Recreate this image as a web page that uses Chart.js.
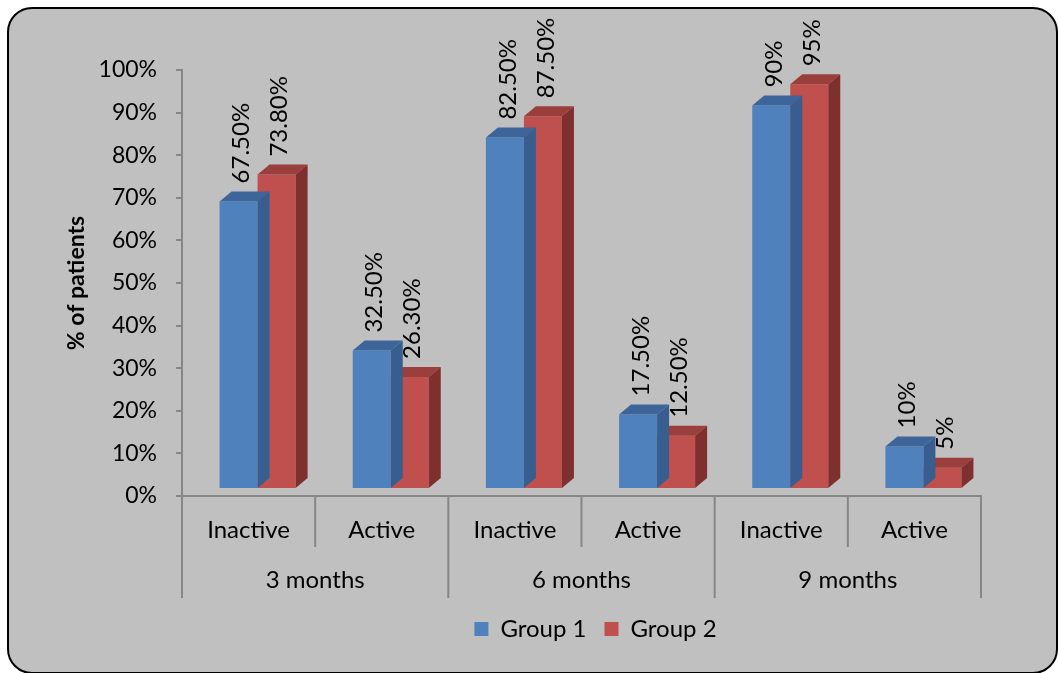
<!DOCTYPE html>
<html><head><meta charset="utf-8">
<script src="https://cdn.jsdelivr.net/npm/chart.js@4.4.1/dist/chart.umd.min.js"></script>
<style>html,body{margin:0;padding:0;background:#fff}#wrap{width:1058px;height:673px}</style>
</head><body><div id="wrap"><canvas id="c" width="1058" height="673"></canvas></div>
<script>
// ---- data ----
const subCategories = ['Inactive', 'Active', 'Inactive', 'Active', 'Inactive', 'Active'];
const groupLabels = ['3 months', '6 months', '9 months'];
const seriesNames = ['Group 1', 'Group 2'];
const group1 = [67.5, 32.5, 82.5, 17.5, 90, 10];
const group2 = [73.8, 26.3, 87.5, 12.5, 95, 5];
const yTicks = [0, 10, 20, 30, 40, 50, 60, 70, 80, 90, 100];

// ---- style ----
const FONT = 'Lato';
const SHIFT_X = 9, SHIFT_Y = -7;      // front face offset of 3D bars
const DEPTH_X = 12, DEPTH_Y = -10;    // 3D depth
const AXIS_COLOR = '#868686';
const LEGEND_SHIFT = 202;

function fmt(v) { return Number.isInteger(v) ? v + '%' : v.toFixed(2) + '%'; }

const background = {
  id: 'background',
  beforeDraw(chart) {
    const ctx = chart.ctx;
    ctx.save();
    ctx.fillStyle = '#ffffff';
    ctx.fillRect(0, 0, chart.width, chart.height);
    const x = 8, y = 8, w = 1049, h = 665, r = 24;
    ctx.beginPath();
    ctx.moveTo(x + r, y);
    ctx.lineTo(x + w - r, y);
    ctx.arcTo(x + w, y, x + w, y + r, r);
    ctx.lineTo(x + w, y + h - r);
    ctx.arcTo(x + w, y + h, x + w - r, y + h, r);
    ctx.lineTo(x + r, y + h);
    ctx.arcTo(x, y + h, x, y + h - r, r);
    ctx.lineTo(x, y + r);
    ctx.arcTo(x, y, x + r, y, r);
    ctx.closePath();
    ctx.fillStyle = '#c0c0c0';
    ctx.fill();
    ctx.lineWidth = 2;
    ctx.strokeStyle = '#000';
    ctx.stroke();
    ctx.restore();
  }
};

const legendShift = {
  id: 'legendShift',
  afterLayout(chart) {
    if (chart.legend) { chart.legend.left += LEGEND_SHIFT; }
  }
};

const bars3d = {
  id: 'bars3d',
  beforeDatasetsDraw(chart) {
    chart.ctx.save();
    chart.ctx.translate(SHIFT_X, SHIFT_Y);
  },
  afterDatasetDraw(chart, args) {
    const ctx = chart.ctx;
    const ds = chart.data.datasets[args.index];
    args.meta.data.forEach(el => {
      const { x, y, base, width } = el.getProps(['x', 'y', 'base', 'width'], true);
      const l = x - width / 2, r = x + width / 2;
      ctx.beginPath();
      ctx.moveTo(l, y); ctx.lineTo(l + DEPTH_X, y + DEPTH_Y);
      ctx.lineTo(r + DEPTH_X, y + DEPTH_Y); ctx.lineTo(r, y); ctx.closePath();
      ctx.fillStyle = ds.topColor; ctx.fill();
      ctx.beginPath();
      ctx.moveTo(r, y); ctx.lineTo(r + DEPTH_X, y + DEPTH_Y);
      ctx.lineTo(r + DEPTH_X, base + DEPTH_Y); ctx.lineTo(r, base); ctx.closePath();
      ctx.fillStyle = ds.sideColor; ctx.fill();
    });
  },
  afterDatasetsDraw(chart) {
    const ctx = chart.ctx;
    ctx.fillStyle = '#000';
    ctx.font = '24px ' + FONT;
    ctx.textAlign = 'left';
    ctx.textBaseline = 'middle';
    chart.data.datasets.forEach((ds, i) => {
      chart.getDatasetMeta(i).data.forEach((el, j) => {
        ctx.save();
        ctx.translate(el.x + 3, el.y + DEPTH_Y - 8);
        ctx.rotate(-Math.PI / 2);
        ctx.fillText(fmt(ds.data[j]), 0, 0);
        ctx.restore();
      });
    });
    ctx.restore();
  }
};

const xGroups = {
  id: 'xGroups',
  afterDraw(chart) {
    const xs = chart.scales.x;
    const ctx = chart.ctx;
    const top = xs.top;
    const per = subCategories.length / groupLabels.length;
    const half = (xs.getPixelForValue(1) - xs.getPixelForValue(0)) / 2;
    ctx.save();
    ctx.strokeStyle = AXIS_COLOR;
    ctx.lineWidth = 2;
    for (let i = 0; i <= subCategories.length; i++) {
      const x = i < subCategories.length ? xs.getPixelForValue(i) - half : xs.getPixelForValue(i - 1) + half;
      const long = i % per === 0;
      ctx.beginPath();
      ctx.moveTo(x, top);
      ctx.lineTo(x, top + (long ? 102 : 51));
      ctx.stroke();
    }
    ctx.fillStyle = '#000';
    ctx.font = '24px ' + FONT;
    ctx.textAlign = 'center';
    ctx.textBaseline = 'middle';
    groupLabels.forEach((g, k) => {
      const cx = (xs.getPixelForValue(k * per) + xs.getPixelForValue(k * per + per - 1)) / 2;
      ctx.fillText(g, cx, top + 84);
    });
    ctx.restore();
  }
};

new Chart(document.getElementById('c'), {
  type: 'bar',
  data: {
    labels: subCategories,
    datasets: [
      { label: seriesNames[0], data: group1, backgroundColor: '#4f81bd', topColor: '#3d659a', sideColor: '#375e8f' },
      { label: seriesNames[1], data: group2, backgroundColor: '#c0504d', topColor: '#9a3f3c', sideColor: '#7f302e' }
    ]
  },
  options: {
    responsive: false,
    animation: false,
    devicePixelRatio: 1,
    categoryPercentage: 0.571,
    barPercentage: 1.0,
    layout: { padding: { left: 8, top: 70, right: 77, bottom: 22 } },
    plugins: {
      tooltip: { enabled: false },
      legend: {
        position: 'bottom',
        labels: { font: { family: FONT, size: 24 }, color: '#000', boxWidth: 14, boxHeight: 14, padding: 18 }
      }
    },
    scales: {
      y: {
        min: 0, max: 100,
        afterFit(s) { s.width = 174; },
        afterBuildTicks(s) { s.ticks = yTicks.map(v => ({ value: v })); },
        ticks: { callback: v => v + '%', color: '#000', font: { family: FONT, size: 23 }, padding: 19 },
        grid: { drawOnChartArea: false, drawTicks: true, tickLength: 6, color: AXIS_COLOR, lineWidth: 2 },
        border: { display: true, color: AXIS_COLOR, width: 2 },
        title: { display: true, text: '% of patients', color: '#000', font: { family: FONT, size: 23, weight: 'bold' }, padding: { top: 55, bottom: 0 } }
      },
      x: {
        afterFit(s) { s.height = 103; },
        ticks: { color: '#000', font: { family: FONT, size: 24 }, padding: 20, maxRotation: 0 },
        grid: { display: false, drawTicks: false },
        border: { display: true, color: AXIS_COLOR, width: 2 }
      }
    }
  },
  plugins: [background, legendShift, bars3d, xGroups]
});
</script>
</body></html>
